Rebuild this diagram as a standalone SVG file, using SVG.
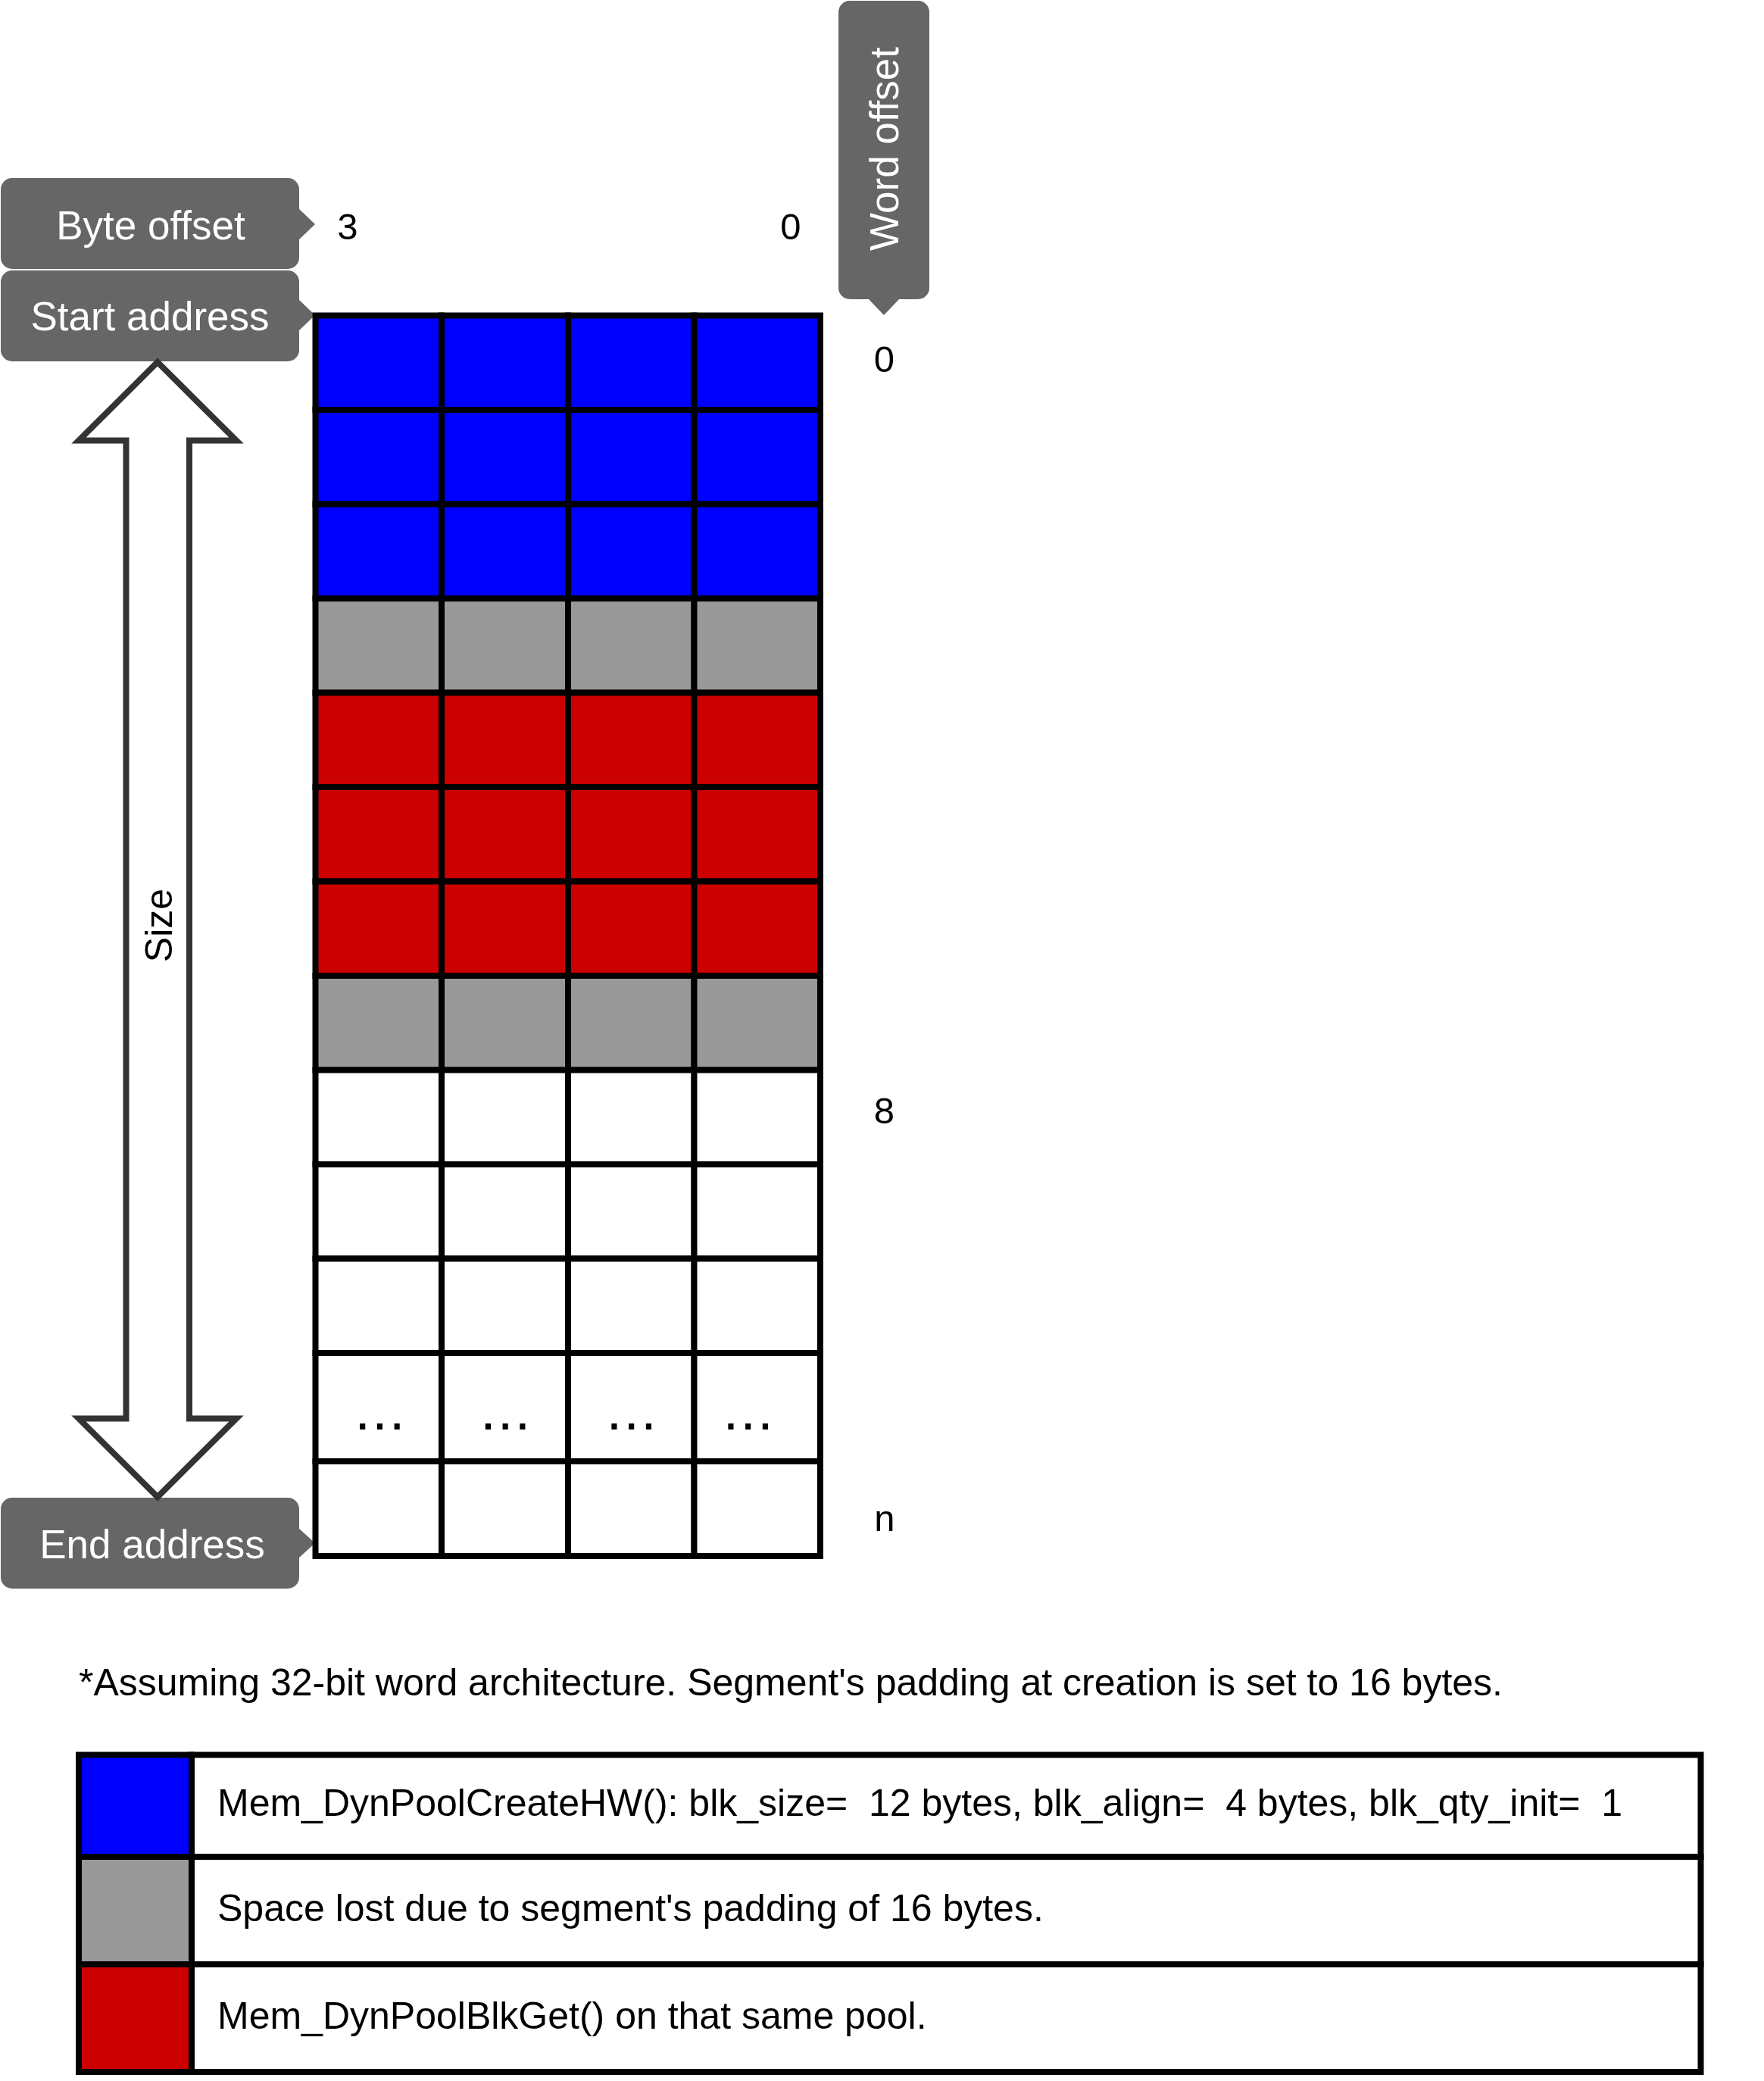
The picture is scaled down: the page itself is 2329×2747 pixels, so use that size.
<svg xmlns="http://www.w3.org/2000/svg" width="2329" height="2747" viewBox="0 0 2329 2747">
<style>
  text { font-family: "Liberation Sans", Arial, sans-serif; }
  .lbl { fill: #666666; }
  .lbltxt { fill: #ffffff; font-size: 53px; text-anchor: middle; }
  .num { fill: #000000; font-size: 49px; text-anchor: middle; }
  .c { stroke: #000000; stroke-width: 8; }
  .blue { fill: #0000FF; }
  .gray { fill: #999999; }
  .red { fill: #CC0000; }
  .white { fill: #FFFFFF; }
  .dots { fill: #000000; font-size: 75px; letter-spacing: 1.95px; }
  .legtxt { fill: #000000; font-size: 50px; }
  .note { fill: #000000; font-size: 50px; }
</style>
<rect x="0" y="0" width="2329" height="2747" fill="#ffffff"/>

<!-- Labels -->
<g id="byte-offset">
  <rect class="lbl" x="1" y="235" width="394" height="120" rx="15"/>
  <polygon class="lbl" points="394,275 416,296 394,317"/>
  <text class="lbltxt" x="199" y="316">Byte offset</text>
</g>
<g id="start-address">
  <rect class="lbl" x="1" y="357" width="394" height="120" rx="15"/>
  <polygon class="lbl" points="394,395 416,416 394,437"/>
  <text class="lbltxt" x="198" y="435.5">Start address</text>
</g>
<g id="end-address">
  <rect class="lbl" x="1" y="1977" width="394" height="120" rx="15"/>
  <polygon class="lbl" points="394,2017 416,2037 394,2057"/>
  <text class="lbltxt" x="201" y="2056.5">End address</text>
</g>
<g id="word-offset">
  <rect class="lbl" x="1107" y="1" width="120" height="394" rx="15"/>
  <polygon class="lbl" points="1146,394 1167,416 1188,394"/>
  <text class="lbltxt" font-size="54" transform="translate(1186,196.5) rotate(-90)">Word offset</text>
</g>

<!-- Byte offset numbers -->
<g id="byte-numbers">
  <text class="num" x="459" y="316">3</text>
  <text class="num" x="1044" y="316">0</text>
</g>
<!-- Word offset numbers -->
<g id="word-numbers">
  <text class="num" x="1167.5" y="491">0</text>
  <text class="num" x="1167.5" y="1483">8</text>
  <text class="num" x="1168" y="2021">n</text>
</g>

<!-- Memory grid -->
<g id="grid">
  <g id="row-0"><rect class="c blue" x="416.5" y="416.5" width="166.5" height="124.5"/><rect class="c blue" x="583" y="416.5" width="167" height="124.5"/><rect class="c blue" x="750" y="416.5" width="166.5" height="124.5"/><rect class="c blue" x="916.5" y="416.5" width="166.5" height="124.5"/></g>
  <g id="row-1"><rect class="c blue" x="416.5" y="541" width="166.5" height="124.5"/><rect class="c blue" x="583" y="541" width="167" height="124.5"/><rect class="c blue" x="750" y="541" width="166.5" height="124.5"/><rect class="c blue" x="916.5" y="541" width="166.5" height="124.5"/></g>
  <g id="row-2"><rect class="c blue" x="416.5" y="665.5" width="166.5" height="124.5"/><rect class="c blue" x="583" y="665.5" width="167" height="124.5"/><rect class="c blue" x="750" y="665.5" width="166.5" height="124.5"/><rect class="c blue" x="916.5" y="665.5" width="166.5" height="124.5"/></g>
  <g id="row-3"><rect class="c gray" x="416.5" y="790" width="166.5" height="124.5"/><rect class="c gray" x="583" y="790" width="167" height="124.5"/><rect class="c gray" x="750" y="790" width="166.5" height="124.5"/><rect class="c gray" x="916.5" y="790" width="166.5" height="124.5"/></g>
  <g id="row-4"><rect class="c red" x="416.5" y="914.5" width="166.5" height="124.5"/><rect class="c red" x="583" y="914.5" width="167" height="124.5"/><rect class="c red" x="750" y="914.5" width="166.5" height="124.5"/><rect class="c red" x="916.5" y="914.5" width="166.5" height="124.5"/></g>
  <g id="row-5"><rect class="c red" x="416.5" y="1039" width="166.5" height="124.5"/><rect class="c red" x="583" y="1039" width="167" height="124.5"/><rect class="c red" x="750" y="1039" width="166.5" height="124.5"/><rect class="c red" x="916.5" y="1039" width="166.5" height="124.5"/></g>
  <g id="row-6"><rect class="c red" x="416.5" y="1163.5" width="166.5" height="124.5"/><rect class="c red" x="583" y="1163.5" width="167" height="124.5"/><rect class="c red" x="750" y="1163.5" width="166.5" height="124.5"/><rect class="c red" x="916.5" y="1163.5" width="166.5" height="124.5"/></g>
  <g id="row-7"><rect class="c gray" x="416.5" y="1288" width="166.5" height="124.5"/><rect class="c gray" x="583" y="1288" width="167" height="124.5"/><rect class="c gray" x="750" y="1288" width="166.5" height="124.5"/><rect class="c gray" x="916.5" y="1288" width="166.5" height="124.5"/></g>
  <g id="row-8"><rect class="c white" x="416.5" y="1412.5" width="166.5" height="124.5"/><rect class="c white" x="583" y="1412.5" width="167" height="124.5"/><rect class="c white" x="750" y="1412.5" width="166.5" height="124.5"/><rect class="c white" x="916.5" y="1412.5" width="166.5" height="124.5"/></g>
  <g id="row-9"><rect class="c white" x="416.5" y="1537" width="166.5" height="124.5"/><rect class="c white" x="583" y="1537" width="167" height="124.5"/><rect class="c white" x="750" y="1537" width="166.5" height="124.5"/><rect class="c white" x="916.5" y="1537" width="166.5" height="124.5"/></g>
  <g id="row-10"><rect class="c white" x="416.5" y="1661.5" width="166.5" height="124.5"/><rect class="c white" x="583" y="1661.5" width="167" height="124.5"/><rect class="c white" x="750" y="1661.5" width="166.5" height="124.5"/><rect class="c white" x="916.5" y="1661.5" width="166.5" height="124.5"/></g>
  <g id="row-11"><rect class="c white" x="416.5" y="1786" width="166.5" height="143"/><rect class="c white" x="583" y="1786" width="167" height="143"/><rect class="c white" x="750" y="1786" width="166.5" height="143"/><rect class="c white" x="916.5" y="1786" width="166.5" height="143"/>
    <text class="dots" x="468.2" y="1887">...</text>
    <text class="dots" x="634" y="1887">...</text>
    <text class="dots" x="800.5" y="1887">...</text>
    <text class="dots" x="954.5" y="1887">...</text>
  </g>
  <g id="row-12"><rect class="c white" x="416.5" y="1929" width="166.5" height="125"/><rect class="c white" x="583" y="1929" width="167" height="125"/><rect class="c white" x="750" y="1929" width="166.5" height="125"/><rect class="c white" x="916.5" y="1929" width="166.5" height="125"/></g>
</g>

<!-- Size double arrow -->
<g id="connectors">
  <polygon points="208,478 312,581.5 250,581.5 250,1872.5 312,1872.5 208,1976 104,1872.5 166.5,1872.5 166.5,581.5 104,581.5" fill="#ffffff" stroke="#333333" stroke-width="8" stroke-miterlimit="10"/>
</g>
<g id="size-label">
  <text fill="#000000" font-size="50" text-anchor="middle" transform="translate(226.5,1221.5) rotate(-90)">Size</text>
</g>

<!-- Footnote -->
<g id="footnote">
  <text class="note" x="104" y="2238">*Assuming 32-bit word architecture. Segment's padding at creation is set to 16 bytes.</text>
</g>

<!-- Legend -->
<g id="legend">
  <g id="legend-blue">
    <rect class="c blue" x="104" y="2316.5" width="149" height="134.5"/>
    <rect class="c white" x="253" y="2316.5" width="1992.5" height="134.5"/>
    <text class="legtxt" x="287" y="2396.5" xml:space="preserve">Mem_DynPoolCreateHW(): blk_size=  12 bytes, blk_align=  4 bytes, blk_qty_init=  1</text>
  </g>
  <g id="legend-gray">
    <rect class="c gray" x="104" y="2451" width="149" height="142"/>
    <rect class="c white" x="253" y="2451" width="1992.5" height="142"/>
    <text class="legtxt" x="287" y="2536">Space lost due to segment's padding of 16 bytes.</text>
  </g>
  <g id="legend-red">
    <rect class="c red" x="104" y="2593" width="149" height="142"/>
    <rect class="c white" x="253" y="2593" width="1992.5" height="142"/>
    <text class="legtxt" x="287" y="2678">Mem_DynPoolBlkGet() on that same pool.</text>
  </g>
</g>
</svg>
